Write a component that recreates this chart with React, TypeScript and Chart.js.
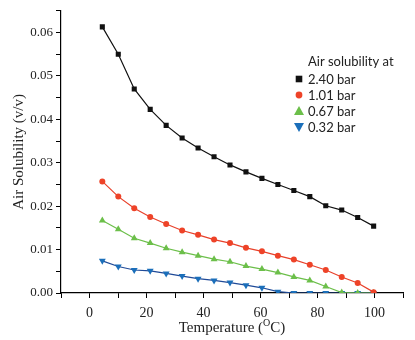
import React, { useEffect, useRef } from "react";
import { Chart, registerables } from "chart.js";

Chart.register(...registerables);

const temperatures = [4.5, 10.1, 15.7, 21.3, 26.9, 32.5, 38.1, 43.7, 49.3, 54.9, 60.5, 66.1, 71.7, 77.3, 82.9, 88.5, 94.1, 99.7];
const bar240 = [0.0613, 0.055, 0.047, 0.0423, 0.0386, 0.0357, 0.0334, 0.0314, 0.0295, 0.0279, 0.0264, 0.025, 0.0236, 0.0222, 0.0201, 0.0191, 0.0174, 0.0154];
const bar101 = [0.0257, 0.0222, 0.0195, 0.0175, 0.0159, 0.0144, 0.0134, 0.0123, 0.0115, 0.0104, 0.0096, 0.0086, 0.0077, 0.0065, 0.0053, 0.0037, 0.0023, 0.0002];
const bar067 = [0.0167, 0.0147, 0.0126, 0.0115, 0.0103, 0.0094, 0.0086, 0.0078, 0.0072, 0.0062, 0.0055, 0.0047, 0.0037, 0.0029, 0.0015, 0.0001, 0, 0];
const bar032 = [0.0074, 0.0061, 0.0053, 0.0051, 0.0045, 0.0039, 0.0033, 0.0029, 0.0024, 0.0018, 0.0012, 0.0003, 0, 0, 0, 0, 0, 0];
const seriesLabels = ["2.40 bar", "1.01 bar", "0.67 bar", "0.32 bar"];
const legendTitle = "Air solubility at";
const yTitle = "Air Solubility (v/v)";
const xTitleMain = "Temperature (";
const xTitleSup = "O";
const xTitleEnd = "C)";

const SERIF = '"Liberation Serif", "DejaVu Serif", serif';
const SANS = 'Lato, "Liberation Sans", sans-serif';

const toPoints = (ys: number[]) => temperatures.map((x, i) => ({ x, y: ys[i] }));

function marker(ctx: CanvasRenderingContext2D, style: string, rot: number, r: number, x: number, y: number) {
  ctx.beginPath();
  if (style === "rect") {
    ctx.rect(x - r, y - r, 2 * r, 2 * r);
  } else if (style === "circle") {
    ctx.arc(x, y, r, 0, Math.PI * 2);
  } else {
    const dir = rot === 180 ? -1 : 1;
    ctx.moveTo(x, y - dir * r);
    ctx.lineTo(x + r, y + dir * r * 0.8);
    ctx.lineTo(x - r, y + dir * r * 0.8);
    ctx.closePath();
  }
  ctx.fill();
}

const overlayPlugin = {
  id: "overlay",
  afterDraw(chart: any) {
    const ctx = chart.ctx;
    const area = chart.chartArea;
    ctx.save();
    ctx.fillStyle = "#222";
    ctx.textBaseline = "middle";
    ctx.textAlign = "left";
    const big = `15px ${SERIF}`;
    const small = `10px ${SERIF}`;
    ctx.font = big;
    const w1 = ctx.measureText(xTitleMain).width;
    const w3 = ctx.measureText(xTitleEnd).width;
    ctx.font = small;
    const w2 = ctx.measureText(xTitleSup).width;
    const total = w1 + w2 + w3;
    const cx = (area.left + area.right) / 2;
    let x = cx - total / 2;
    const y = 328;
    ctx.font = big;
    ctx.fillText(xTitleMain, x, y);
    x += w1;
    ctx.font = small;
    ctx.fillText(xTitleSup, x, y - 5);
    x += w2;
    ctx.font = big;
    ctx.fillText(xTitleEnd, x, y);

    ctx.font = `13px ${SANS}`;
    ctx.fillStyle = "#222";
    ctx.fillText(legendTitle, 308, 62);
    const ys = [79, 95, 111, 127];
    chart.data.datasets.forEach((ds: any, i: number) => {
      ctx.fillStyle = ds.pointBackgroundColor;
      marker(ctx, ds.pointStyle, ds.pointRotation || 0, ds.legendRadius, 299, ys[i]);
      ctx.fillStyle = "#222";
      ctx.fillText(ds.label, 308, ys[i] + 0.5);
    });
    ctx.restore();
  },
};

export default function App() {
  const ref = useRef<HTMLCanvasElement | null>(null);
  useEffect(() => {
    if (!ref.current) return;
    const mk = (label: string, data: number[], color: string, line: string, style: string, radius: number, legendRadius: number, rotation = 0) => ({
      label,
      data: toPoints(data),
      borderColor: line,
      backgroundColor: color,
      pointBackgroundColor: color,
      pointBorderColor: color,
      pointBorderWidth: 0,
      pointStyle: style,
      pointRotation: rotation,
      pointRadius: radius,
      legendRadius,
      borderWidth: 1.2,
      tension: 0,
      fill: false,
      clip: { left: 10, right: 10, top: 10, bottom: 0 },
    });
    const chart = new Chart(ref.current, {
      type: "line",
      data: {
        datasets: [
          mk(seriesLabels[0], bar240, "#111111", "#111111", "rect", 3.6, 3.3),
          mk(seriesLabels[1], bar101, "#EE4328", "#E8402A", "circle", 3, 3.4),
          mk(seriesLabels[2], bar067, "#6CBF4A", "#6CBF4A", "triangle", 4, 5),
          mk(seriesLabels[3], bar032, "#1B6FBA", "#1F4A98", "triangle", 4, 5, 180),
        ] as any,
      },
      options: {
        animation: false,
        responsive: false,
        maintainAspectRatio: false,
        layout: { padding: { left: 0, right: 12, top: 7, bottom: 0 } },
        plugins: { legend: { display: false }, tooltip: { enabled: false } },
        scales: {
          x: {
            type: "linear",
            min: -10,
            max: 110,
            afterFit: (s: any) => { s.height = 47; },
            ticks: {
              stepSize: 10,
              autoSkip: false,
              maxRotation: 0,
              padding: 7,
              color: "#222",
              font: { family: SERIF, size: 14 },
              callback: (v: any) => {
                const n = Number(v);
                return n >= 0 && n <= 100 && n % 20 === 0 ? String(n) : "";
              },
            },
            grid: { drawOnChartArea: false, tickLength: 5, color: "#000", tickColor: "#000" },
            border: { display: true, color: "#000", width: 1.2 },
          },
          y: {
            type: "linear",
            min: 0,
            max: 0.065,
            afterFit: (s: any) => { s.width = 61; },
            ticks: {
              stepSize: 0.005,
              autoSkip: false,
              padding: 3,
              color: "#222",
              font: { family: SERIF, size: 13 },
              callback: (v: any) => {
                const n = Number(v) * 100;
                return Math.abs(n - Math.round(n)) < 1e-6 ? (Number(v)).toFixed(2) : "";
              },
            },
            grid: { drawOnChartArea: false, tickLength: 5, color: "#000", tickColor: "#000" },
            border: { display: true, color: "#000", width: 1.2 },
            title: {
              display: true,
              text: yTitle,
              color: "#222",
              font: { family: SERIF, size: 15 },
              padding: { top: 10, bottom: 0 },
            },
          },
        },
      },
      plugins: [overlayPlugin],
    });
    return () => chart.destroy();
  }, []);
  return (
    <div style={{ position: "fixed", left: 0, top: 0, width: 415, height: 340, background: "#fff" }}>
      <canvas ref={ref} width={415} height={340} style={{ width: 415, height: 340 }} />
    </div>
  );
}
